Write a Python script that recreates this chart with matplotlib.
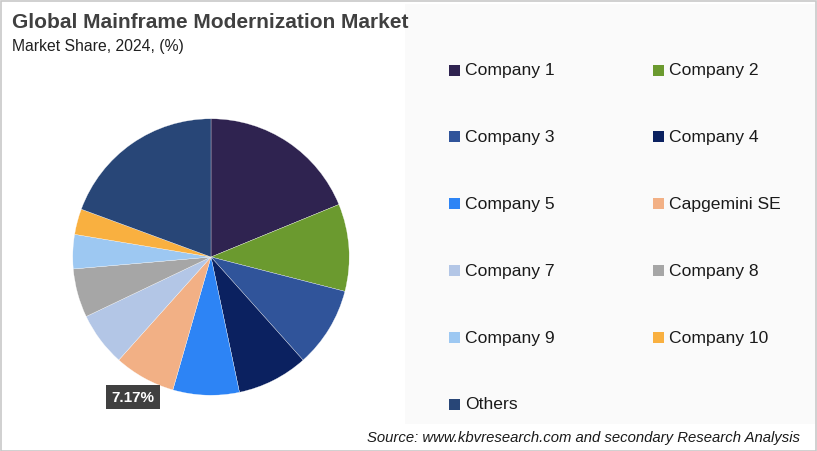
import matplotlib
matplotlib.use("Agg")
import matplotlib.pyplot as plt
import matplotlib.patches as mpatches

plt.rcParams["font.family"] = ["Liberation Sans", "DejaVu Sans"]

# ── Data ──────────────────────────────────────────────────────────────────
labels = ["Company 1", "Company 2", "Company 3", "Company 4", "Company 5",
          "Capgemini SE", "Company 7", "Company 8", "Company 9", "Company 10",
          "Others"]
shares = [18.8, 10.2, 9.4, 8.3, 7.75, 7.17, 6.3, 5.7, 4.0, 3.0, 19.38]
colors = ["#2f2350", "#6b9a2f", "#30549a", "#0b2160", "#2d84f5",
          "#f2b085", "#b3c6e6", "#a6a6a6", "#9dc8f2", "#f9b040",
          "#284677"]
shown_label = "Capgemini SE"

W, H = 817, 452
fig = plt.figure(figsize=(W / 100, H / 100), dpi=100)
fig.patch.set_facecolor("white")

# light panel behind legend + frame
fig.patches.append(mpatches.Rectangle((405 / W, 0.06), (W - 407) / W, 0.93,
                                      transform=fig.transFigure,
                                      facecolor="#fafafa", edgecolor="none", zorder=0))
fig.patches.append(mpatches.Rectangle((0.5 / W, 0.5 / H), 1 - 2 / W, 1 - 2 / H,
                                      transform=fig.transFigure, fill=False,
                                      edgecolor="#c8c8c8", linewidth=1.2, zorder=5))

fig.text(12 / W, 1 - 22 / H, "Global Mainframe Modernization Market",
         fontsize=15, fontweight="bold", color="#404040", va="center", ha="left")
fig.text(12 / W, 1 - 46 / H, "Market Share, 2024, (%)",
         fontsize=11.3, color="#202020", va="center", ha="left")

# ── Pie ───────────────────────────────────────────────────────────────────
cx, cy, r = 211, 258, 141
ax = fig.add_axes([(cx - r) / W, (H - cy - r) / H, 2 * r / W, 2 * r / H])
wedges, _ = ax.pie(shares, colors=colors, startangle=90, counterclock=False,
                   radius=1, wedgeprops={"edgecolor": "white", "linewidth": 0.2})
ax.set_xlim(-1.02, 1.02)
ax.set_ylim(-1.02, 1.02)
ax.set_aspect("equal")
ax.axis("off")

fig.text(133 / W, 1 - 398 / H, f"{shares[labels.index(shown_label)]:.2f}%",
         fontsize=11, fontweight="bold", color="white", ha="center", va="center",
         bbox=dict(boxstyle="square,pad=0.33", facecolor="#404040", edgecolor="none"))

# ── Legend (row-major, two columns) ───────────────────────────────────────
for i, (lab, col) in enumerate(zip(labels, colors)):
    row, cl = divmod(i, 2)
    x0 = 449 + 204 * cl
    y0 = 71 + 66.8 * row
    fig.patches.append(mpatches.Rectangle((x0 / W, 1 - (y0 + 5.5) / H), 11 / W, 11 / H,
                                          transform=fig.transFigure,
                                          facecolor=col, edgecolor="none", zorder=3))
    fig.text((x0 + 16) / W, 1 - y0 / H, lab, fontsize=12.6, color="#1a1a1a",
             ha="left", va="center")

fig.text(800 / W, 1 - 438 / H,
         "Source: www.kbvresearch.com and secondary Research Analysis",
         fontsize=10.75, style="italic", color="#1a1a1a", ha="right", va="center")

fig.savefig("out.png", dpi=100)
